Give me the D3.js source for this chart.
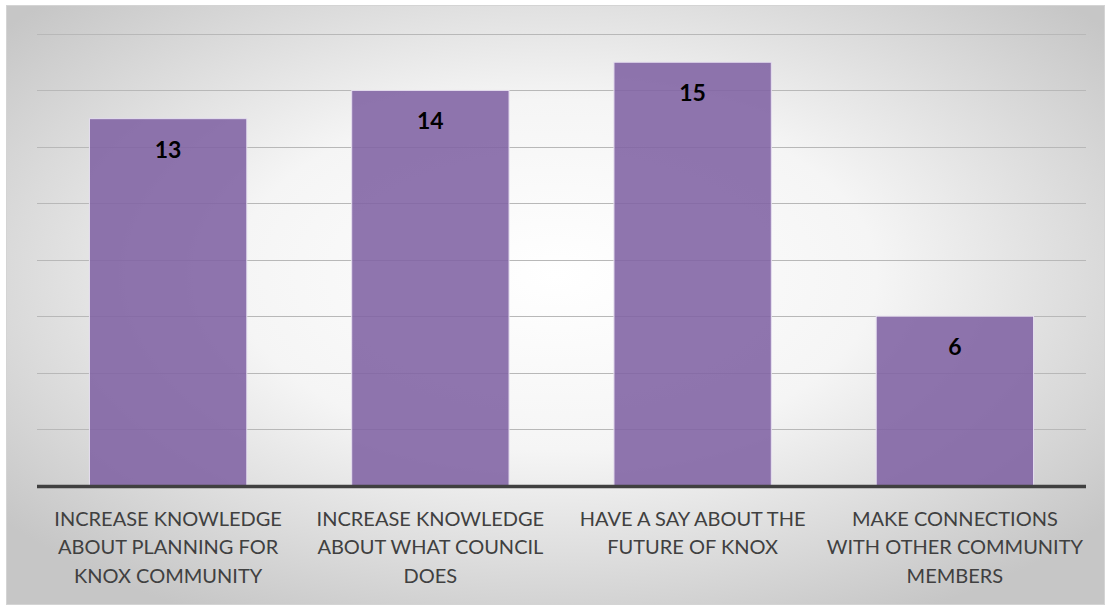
<!DOCTYPE html>
<html>
<head>
<meta charset="utf-8">
<script src="https://cdn.jsdelivr.net/npm/d3@7"></script>
<style>
  body { margin: 0; background: #ffffff; }
</style>
</head>
<body>
<script>
var categories = [
  ["INCREASE KNOWLEDGE", "ABOUT PLANNING FOR", "KNOX COMMUNITY"],
  ["INCREASE KNOWLEDGE", "ABOUT WHAT COUNCIL", "DOES"],
  ["HAVE A SAY ABOUT THE", "FUTURE OF KNOX"],
  ["MAKE CONNECTIONS", "WITH OTHER COMMUNITY", "MEMBERS"]
];
var values = [13, 14, 15, 6];
var gridTicks = [2, 4, 6, 8, 10, 12, 14, 16];

var W = 1111, H = 607;
var margin = { top: 34, right: 25, bottom: 121, left: 37 };
var w = W - margin.left - margin.right;
var h = H - margin.top - margin.bottom - 0.5;

var svg = d3.select("body").append("svg")
    .attr("width", W)
    .attr("height", H);

var defs = svg.append("defs");
var grad = defs.append("radialGradient")
    .attr("id", "bg")
    .attr("cx", "50%").attr("cy", "45%").attr("r", "65%")
    .attr("gradientUnits", "objectBoundingBox");
grad.append("stop").attr("offset", "0%").attr("stop-color", "#ffffff");
grad.append("stop").attr("offset", "45%").attr("stop-color", "#f5f5f5");
grad.append("stop").attr("offset", "100%").attr("stop-color", "#c6c6c6");

svg.append("rect")
    .attr("x", 6.5).attr("y", 5.5)
    .attr("width", 1098).attr("height", 599)
    .attr("fill", "url(#bg)")
    .attr("stroke", "#d4d4d4")
    .attr("stroke-width", 1);

var g = svg.append("g")
    .attr("transform", "translate(" + margin.left + "," + margin.top + ")");

var xScale = d3.scaleBand()
    .domain(d3.range(values.length))
    .range([0, w])
    .paddingInner(0.4)
    .paddingOuter(0.2);

var yScale = d3.scaleLinear()
    .domain([0, 16])
    .range([h, 0]);

// gridlines
g.selectAll(".grid")
    .data(gridTicks)
    .enter()
    .append("line")
    .attr("class", "grid")
    .attr("x1", 0)
    .attr("x2", w)
    .attr("y1", function(d) { return Math.round(yScale(d)) + 0.5; })
    .attr("y2", function(d) { return Math.round(yScale(d)) + 0.5; })
    .attr("stroke", "#b8b8b8")
    .attr("stroke-width", 1.2);

// bars
g.selectAll(".bar")
    .data(values)
    .enter()
    .append("rect")
    .attr("class", "bar")
    .attr("x", function(d, i) { return xScale(i); })
    .attr("y", function(d) { return yScale(d); })
    .attr("width", xScale.bandwidth())
    .attr("height", function(d) { return h - yScale(d); })
    .attr("fill", "#7f62a3")
    .attr("fill-opacity", 0.88)
    .attr("stroke", "#e6dff0")
    .attr("stroke-width", 1);

// value labels
g.selectAll(".val")
    .data(values)
    .enter()
    .append("text")
    .attr("class", "val")
    .attr("x", function(d, i) { return xScale(i) + xScale.bandwidth() / 2; })
    .attr("y", function(d) { return yScale(d) + 39; })
    .attr("text-anchor", "middle")
    .style("font-family", "Lato, 'Open Sans', sans-serif")
    .style("font-weight", "bold")
    .style("font-size", "23px")
    .style("fill", "#000000")
    .text(function(d) { return d; });

// baseline
g.append("line")
    .attr("x1", 0).attr("x2", w)
    .attr("y1", h + 1).attr("y2", h + 1)
    .attr("stroke", "#404040")
    .attr("stroke-width", 3.5);

// category labels
var labels = g.selectAll(".cat")
    .data(categories)
    .enter()
    .append("text")
    .attr("class", "cat")
    .attr("text-anchor", "middle")
    .attr("transform", function(d, i) {
      return "translate(" + (xScale(i) + xScale.bandwidth() / 2) + "," + (h + 40) + ")";
    })
    .style("font-family", "Lato, 'Open Sans', sans-serif")
    .style("font-size", "20px")
    .style("fill", "#404040");

labels.selectAll("tspan")
    .data(function(d) { return d; })
    .enter()
    .append("tspan")
    .attr("x", 0)
    .attr("y", function(d, i) { return i * 28.5; })
    .text(function(d) { return d; });
</script>
</body>
</html>
